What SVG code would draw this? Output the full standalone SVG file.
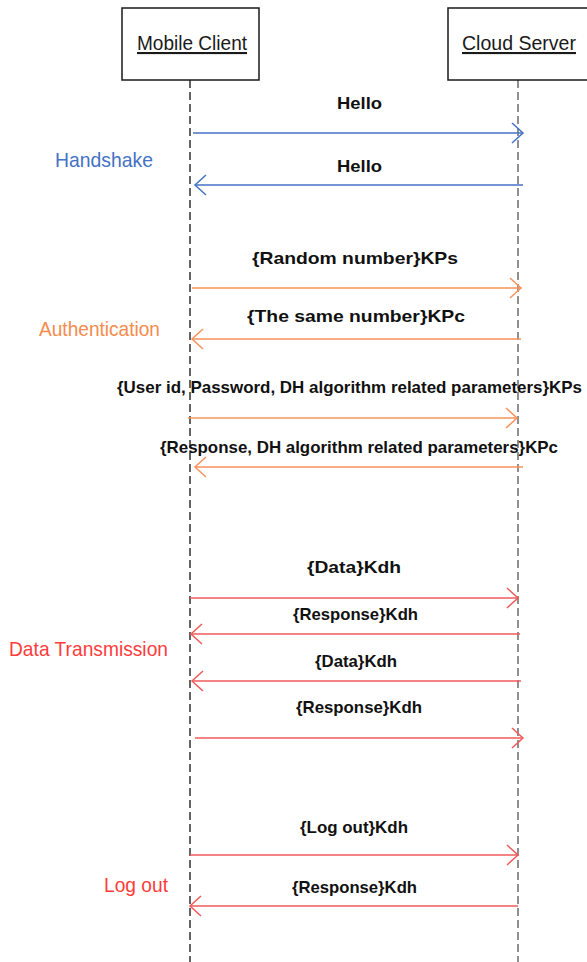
<svg xmlns="http://www.w3.org/2000/svg" width="587" height="962" viewBox="0 0 587 962">
  <style>
    .box { fill: #ffffff; stroke: #1a1a1a; stroke-width: 1.5; }
    .actor { font-family: "Liberation Sans", Arial, sans-serif; font-size: 21px; fill: #1a1a1a; text-decoration: underline; }
    .life { stroke: #111111; stroke-width: 1.3; stroke-dasharray: 8 4; fill: none; }
    .life.srv { stroke: #555555; }
    .msg { font-family: "Liberation Sans", Arial, sans-serif; font-weight: bold; font-size: 17px; fill: #111111; }
    .phase { font-family: "Liberation Sans", Arial, sans-serif; font-size: 21px; }
    .blue { stroke: #4472C4; }
    .orange { stroke: #F7925A; }
    .red { stroke: #F05A5A; }
    .arrow { stroke-width: 1.5; fill: none; }
  </style>
  <defs>
    <marker id="headBlue" markerUnits="userSpaceOnUse" markerWidth="14" markerHeight="22" refX="11" refY="10" orient="auto" viewBox="-1 -1 14 22">
      <path d="M0,0 L11,10 L0,20" fill="none" stroke="#4472C4" stroke-width="1.5"/>
    </marker>
    <marker id="headOrange" markerUnits="userSpaceOnUse" markerWidth="14" markerHeight="22" refX="11" refY="10" orient="auto" viewBox="-1 -1 14 22">
      <path d="M0,0 L11,10 L0,20" fill="none" stroke="#F7925A" stroke-width="1.5"/>
    </marker>
    <marker id="headRed" markerUnits="userSpaceOnUse" markerWidth="14" markerHeight="22" refX="11" refY="10" orient="auto" viewBox="-1 -1 14 22">
      <path d="M0,0 L11,10 L0,20" fill="none" stroke="#F05A5A" stroke-width="1.5"/>
    </marker>
  </defs>

  <rect width="587" height="962" fill="#ffffff"/>

  <!-- lifelines -->
  <g id="lifelines">
    <line class="life" x1="190" y1="80" x2="190" y2="962"/>
    <line class="life srv" x1="518" y1="80" x2="518" y2="962"/>
  </g>

  <!-- participants -->
  <g id="mobile-client">
    <rect class="box" x="122" y="8" width="137" height="72"/>
    <text class="actor" x="137" y="50" textLength="110" lengthAdjust="spacingAndGlyphs">Mobile Client</text>
  </g>
  <g id="cloud-server">
    <rect class="box" x="448" y="8" width="142" height="72"/>
    <text class="actor" x="462" y="50" textLength="114" lengthAdjust="spacingAndGlyphs">Cloud Server</text>
  </g>

  <!-- phase labels -->
  <g id="phase-handshake">
    <text class="phase" x="55" y="167" fill="#4472C4" textLength="98" lengthAdjust="spacingAndGlyphs">Handshake</text>
  </g>
  <g id="phase-authentication">
    <text class="phase" x="39" y="336" fill="#F58B4C" textLength="121" lengthAdjust="spacingAndGlyphs">Authentication</text>
  </g>
  <g id="phase-data">
    <text class="phase" x="9" y="656" fill="#FF3B3B" textLength="159" lengthAdjust="spacingAndGlyphs">Data Transmission</text>
  </g>
  <g id="phase-logout">
    <text class="phase" x="104" y="892" fill="#FF3B3B" textLength="64" lengthAdjust="spacingAndGlyphs">Log out</text>
  </g>

  <!-- messages -->
  <g id="connectors">
    <line class="arrow blue" x1="193" y1="133" x2="523" y2="133" marker-end="url(#headBlue)"/>
    <line class="arrow blue" x1="523" y1="185" x2="195" y2="185" marker-end="url(#headBlue)"/>
    <line class="arrow orange" x1="192" y1="288" x2="521" y2="288" marker-end="url(#headOrange)"/>
    <line class="arrow orange" x1="521" y1="339" x2="192" y2="339" marker-end="url(#headOrange)"/>
    <line class="arrow orange" x1="188" y1="418" x2="517" y2="418" marker-end="url(#headOrange)"/>
    <line class="arrow orange" x1="523" y1="467" x2="195" y2="467" marker-end="url(#headOrange)"/>
    <line class="arrow red" x1="190" y1="598" x2="518" y2="598" marker-end="url(#headRed)"/>
    <line class="arrow red" x1="520" y1="634" x2="191" y2="634" marker-end="url(#headRed)"/>
    <line class="arrow red" x1="521" y1="681" x2="192" y2="681" marker-end="url(#headRed)"/>
    <line class="arrow red" x1="195" y1="738" x2="523" y2="738" marker-end="url(#headRed)"/>
    <line class="arrow red" x1="190" y1="855" x2="518" y2="855" marker-end="url(#headRed)"/>
    <line class="arrow red" x1="518" y1="906" x2="190" y2="906" marker-end="url(#headRed)"/>
  </g>

  <!-- message labels -->
  <g id="labels">
    <text class="msg" x="337" y="109" font-size="22" textLength="45" lengthAdjust="spacingAndGlyphs">Hello</text>
    <text class="msg" x="337" y="172" font-size="22" textLength="45" lengthAdjust="spacingAndGlyphs">Hello</text>
    <text class="msg" x="252" y="264" textLength="206" lengthAdjust="spacingAndGlyphs">{Random number}KPs</text>
    <text class="msg" x="247" y="322" textLength="218" lengthAdjust="spacingAndGlyphs">{The same number}KPc</text>
    <text class="msg" x="117" y="393" font-size="16.5" textLength="465" lengthAdjust="spacingAndGlyphs">{User id, Password, DH algorithm related parameters}KPs</text>
    <text class="msg" x="160" y="453" font-size="16.5" textLength="398" lengthAdjust="spacingAndGlyphs">{Response, DH algorithm related parameters}KPc</text>
    <text class="msg" x="307" y="573" textLength="94" lengthAdjust="spacingAndGlyphs">{Data}Kdh</text>
    <text class="msg" x="293" y="620" textLength="125" lengthAdjust="spacingAndGlyphs">{Response}Kdh</text>
    <text class="msg" x="315" y="667" font-size="16" textLength="82" lengthAdjust="spacingAndGlyphs">{Data}Kdh</text>
    <text class="msg" x="296" y="713" font-size="16" textLength="126" lengthAdjust="spacingAndGlyphs">{Response}Kdh</text>
    <text class="msg" x="300" y="833" font-size="16" textLength="108" lengthAdjust="spacingAndGlyphs">{Log out}Kdh</text>
    <text class="msg" x="292" y="893" font-size="16" textLength="125" lengthAdjust="spacingAndGlyphs">{Response}Kdh</text>
  </g>
</svg>
